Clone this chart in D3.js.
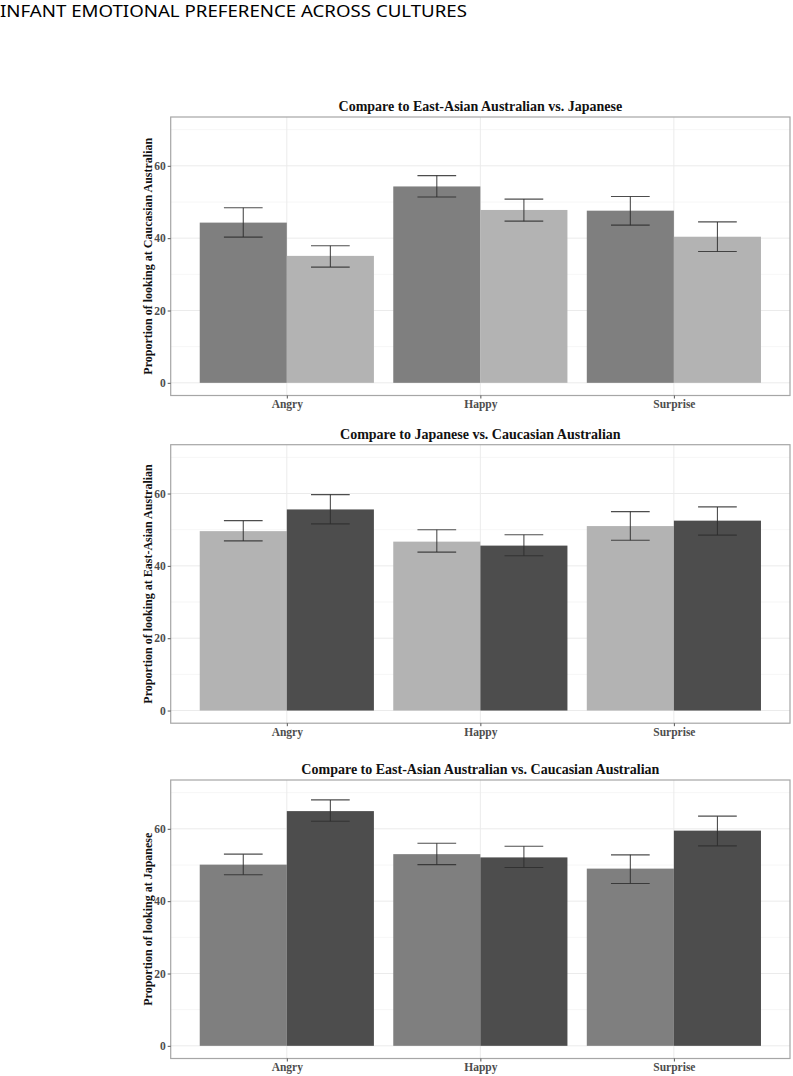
<!DOCTYPE html>
<html>
<head>
<meta charset="utf-8">
<script src="https://cdn.jsdelivr.net/npm/d3@7"></script>
<style>
  html, body { margin: 0; padding: 0; background: #fff; }
  svg { display: block; }
</style>
</head>
<body>
<svg id="chart" width="793" height="1076"></svg>
<script>
// ---------------- data ----------------
const pageTitle = "INFANT EMOTIONAL PREFERENCE ACROSS CULTURES";
const categories = ["Angry", "Happy", "Surprise"];
const yTicks = [0, 20, 40, 60];
const yMinor = [10, 30, 50, 70];

const panelTitles = [
  "Compare to East-Asian Australian vs. Japanese",
  "Compare to Japanese vs. Caucasian Australian",
  "Compare to East-Asian Australian vs. Caucasian Australian"
];
const yTitles = [
  "Proportion of looking at Caucasian Australian",
  "Proportion of looking at East-Asian Australian",
  "Proportion of looking at Japanese"
];
const groupNames = ["first", "second"];

// panel 1
const p1FirstMean = [44.3, 54.3, 47.6];
const p1FirstLow  = [40.3, 51.4, 43.6];
const p1FirstHigh = [48.4, 57.3, 51.5];
const p1SecondMean = [35.1, 47.8, 40.4];
const p1SecondLow  = [32.0, 44.7, 36.3];
const p1SecondHigh = [37.9, 50.8, 44.5];
// panel 2
const p2FirstMean = [49.6, 46.7, 51.0];
const p2FirstLow  = [46.9, 43.8, 47.1];
const p2FirstHigh = [52.5, 50.0, 55.0];
const p2SecondMean = [55.6, 45.6, 52.5];
const p2SecondLow  = [51.6, 42.8, 48.5];
const p2SecondHigh = [59.7, 48.6, 56.3];
// panel 3
const p3FirstMean = [50.1, 53.0, 49.0];
const p3FirstLow  = [47.3, 50.1, 44.9];
const p3FirstHigh = [53.0, 56.0, 52.8];
const p3SecondMean = [64.9, 52.1, 59.5];
const p3SecondLow  = [62.1, 49.3, 55.3];
const p3SecondHigh = [68.0, 55.2, 63.5];

const panelFills = [
  ["#7f7f7f", "#b3b3b3"],
  ["#b3b3b3", "#4d4d4d"],
  ["#7f7f7f", "#4d4d4d"]
];

const panels = [
  {mean: [p1FirstMean, p1SecondMean], low: [p1FirstLow, p1SecondLow], high: [p1FirstHigh, p1SecondHigh]},
  {mean: [p2FirstMean, p2SecondMean], low: [p2FirstLow, p2SecondLow], high: [p2FirstHigh, p2SecondHigh]},
  {mean: [p3FirstMean, p3SecondMean], low: [p3FirstLow, p3SecondLow], high: [p3FirstHigh, p3SecondHigh]}
];

// ---------------- layout ----------------
const svg = d3.select("#chart");
const plotLeft = 170.7, plotRight = 790;
const panelTops = [117, 444.7, 780];
const panelH = 278.5;
const serif = "'Liberation Serif', 'Times New Roman', serif";

svg.append("text")
  .attr("x", 0).attr("y", 16.5)
  .attr("font-family", "'Noto Sans', 'Open Sans', sans-serif")
  .attr("font-size", 16.5)
  .attr("textLength", 467)
  .attr("lengthAdjust", "spacingAndGlyphs")
  .attr("fill", "#000")
  .text(pageTitle);

panels.forEach((p, pi) => {
  const top = panelTops[pi];
  const bottom = top + panelH;
  const g = svg.append("g");

  const x = d3.scalePoint().domain(categories).range([plotLeft, plotRight]).padding(0.6);
  const step = x.step();
  const xs = d3.scaleBand().domain(groupNames).range([-0.45 * step, 0.45 * step]).padding(0);
  const y = d3.scaleLinear().domain([-3.5, 73.5]).range([bottom, top]);

  // grid
  g.selectAll(".minor").data(yMinor).join("line")
    .attr("x1", plotLeft).attr("x2", plotRight)
    .attr("y1", d => y(d)).attr("y2", d => y(d))
    .attr("stroke", "#f4f4f4").attr("stroke-width", 0.8);
  g.selectAll(".major").data(yTicks).join("line")
    .attr("x1", plotLeft).attr("x2", plotRight)
    .attr("y1", d => y(d)).attr("y2", d => y(d))
    .attr("stroke", "#ebebeb").attr("stroke-width", 1);
  g.selectAll(".vmajor").data(categories).join("line")
    .attr("x1", d => x(d)).attr("x2", d => x(d))
    .attr("y1", top).attr("y2", bottom)
    .attr("stroke", "#ebebeb").attr("stroke-width", 1);

  // bars
  groupNames.forEach((gn, gi) => {
    g.selectAll(".bar" + gi).data(categories).join("rect")
      .attr("x", d => x(d) + xs(gn))
      .attr("width", xs.bandwidth())
      .attr("y", (d, i) => y(p.mean[gi][i]))
      .attr("height", (d, i) => y(0) - y(p.mean[gi][i]))
      .attr("fill", panelFills[pi][gi]);
  });

  // error bars
  const capHalf = 0.1 * step;
  groupNames.forEach((gn, gi) => {
    const cx = d => x(d) + xs(gn) + xs.bandwidth() / 2;
    const eg = g.append("g").attr("stroke", "#2e2e2e").attr("stroke-width", 1.1).attr("stroke-opacity", 0.85);
    eg.selectAll(".stem").data(categories).join("line")
      .attr("x1", cx).attr("x2", cx)
      .attr("y1", (d, i) => y(p.high[gi][i])).attr("y2", (d, i) => y(p.low[gi][i]));
    eg.selectAll(".capH").data(categories).join("line")
      .attr("x1", d => cx(d) - capHalf).attr("x2", d => cx(d) + capHalf)
      .attr("y1", (d, i) => y(p.high[gi][i])).attr("y2", (d, i) => y(p.high[gi][i]));
    eg.selectAll(".capL").data(categories).join("line")
      .attr("x1", d => cx(d) - capHalf).attr("x2", d => cx(d) + capHalf)
      .attr("y1", (d, i) => y(p.low[gi][i])).attr("y2", (d, i) => y(p.low[gi][i]));
  });

  // panel border
  g.append("rect")
    .attr("x", plotLeft).attr("y", top)
    .attr("width", plotRight - plotLeft).attr("height", panelH)
    .attr("fill", "none").attr("stroke", "#a6a6a6").attr("stroke-width", 1.2);

  // axes
  const yAxis = g.append("g").attr("transform", `translate(${plotLeft},0)`)
    .call(d3.axisLeft(y).tickValues(yTicks).tickSize(3).tickPadding(2));
  yAxis.select(".domain").remove();
  yAxis.selectAll(".tick line").attr("stroke", "#555");
  yAxis.selectAll("text")
    .attr("font-family", serif).attr("font-size", 11.5).attr("font-weight", "bold")
    .attr("fill", "#4d4d4d");

  const xAxis = g.append("g").attr("transform", `translate(0,${bottom})`)
    .call(d3.axisBottom(x).tickSize(3).tickPadding(1.5));
  xAxis.select(".domain").remove();
  xAxis.selectAll(".tick line").attr("stroke", "#555");
  xAxis.selectAll("text")
    .attr("font-family", serif).attr("font-size", 11.5).attr("font-weight", "bold")
    .attr("fill", "#4d4d4d");

  // titles
  g.append("text")
    .attr("x", (plotLeft + plotRight) / 2).attr("y", top - 6)
    .attr("text-anchor", "middle")
    .attr("font-family", serif).attr("font-size", 14).attr("font-weight", "bold")
    .attr("fill", "#111")
    .text(panelTitles[pi]);

  g.append("text")
    .attr("transform", `translate(152,${(top + bottom) / 2}) rotate(-90)`)
    .attr("text-anchor", "middle")
    .attr("font-family", serif).attr("font-size", 12).attr("font-weight", "bold")
    .attr("fill", "#111")
    .text(yTitles[pi]);
});
</script>
</body>
</html>
